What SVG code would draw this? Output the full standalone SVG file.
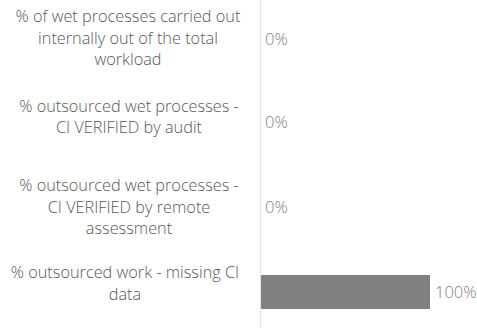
<svg xmlns="http://www.w3.org/2000/svg" width="477" height="328" viewBox="0 0 477 328">
<style>
.lbl{font-family:"Open Sans","Liberation Sans",sans-serif;font-weight:300;font-size:16.3px;fill:#595959;text-anchor:middle}
.val{font-family:"Open Sans","Liberation Sans",sans-serif;font-weight:300;font-size:16.5px;fill:#7f7f7f}
</style>
<rect width="477" height="328" fill="#ffffff"/>
<g id="axis"><line x1="260.5" y1="0" x2="260.5" y2="328" stroke="#e6e6e6" stroke-width="1.5"/></g>
<g id="cat1">
<text class="lbl" x="128" y="22">% of wet processes carried out</text>
<text class="lbl" x="128" y="43.5">internally out of the total</text>
<text class="lbl" x="128" y="65">workload</text>
<text class="val" x="265" y="45">0%</text>
</g>
<g id="cat2">
<text class="lbl" x="129" y="111.5">% outsourced wet processes -</text>
<text class="lbl" x="129" y="133">CI VERIFIED by audit</text>
<text class="val" x="265" y="128">0%</text>
</g>
<g id="cat3">
<text class="lbl" x="129" y="191">% outsourced wet processes -</text>
<text class="lbl" x="129" y="212.5">CI VERIFIED by remote</text>
<text class="lbl" x="129" y="234">assessment</text>
<text class="val" x="265" y="213">0%</text>
</g>
<g id="cat4">
<rect x="261" y="275" width="169" height="34" fill="#808080"/>
<text class="lbl" x="125" y="278">% outsourced work - missing CI</text>
<text class="lbl" x="125" y="299.5">data</text>
<text class="val" x="435" y="298">100%</text>
</g>
</svg>
